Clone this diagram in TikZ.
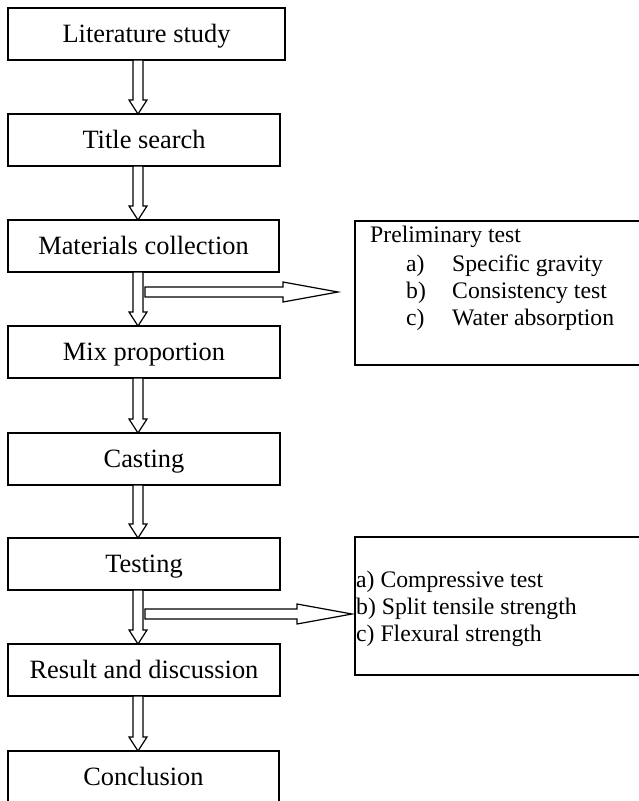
\documentclass[tikz,border=0pt]{standalone}
\usepackage{fontspec}
\setmainfont{Liberation Serif}
\usetikzlibrary{calc}
\tikzset{
  mainbox/.style={draw, line width=1.3pt, minimum width=#1, minimum height=52pt,
    inner sep=0pt, outer sep=0pt, text height=17.5pt, text depth=0pt,
    font=\fontsize{26.4}{30}\selectfont, anchor=north west},
  sidebox/.style={draw, line width=2.3pt, anchor=north west, inner sep=0pt, outer sep=0pt,
    minimum width=300pt},
  sidetxt/.style={font=\fontsize{23.7}{27}\selectfont, anchor=base west, inner sep=0pt},
  blk/.style={draw, line width=1.2pt, fill=white, line join=miter},
}
\newcommand{\vblk}[2]{%
  \draw[blk] let \p1=(#1.south), \p2=(#2.north) in
    (133pt,\y1) -- (133pt,\y2+14pt) -- (129pt,\y2+14pt) -- (138pt,\y2)
    -- (147pt,\y2+14pt) -- (143pt,\y2+14pt) -- (143pt,\y1) -- cycle;}
\newcommand{\hblk}[2]{%
  \draw[blk] let \p1=(#1), \p2=(#2) in
    (\x1,\y1+5pt) -- (\x2-55pt,\y1+5pt) -- (\x2-55pt,\y1+10pt) -- (\x2,\y2)
    -- (\x2-55pt,\y1-10pt) -- (\x2-55pt,\y1-5pt) -- (\x1,\y1-5pt) -- cycle;}
\begin{document}
\begin{tikzpicture}[x=1pt,y=-1pt]
\useasboundingbox (0,0) rectangle (639,801);
\clip (0,0) rectangle (639,801);
\fill[white] (0,0) rectangle (639,801);

\node[mainbox=277pt] (lit) at (8,8) {Literature study};
\node[mainbox=272pt] (title) at (8,114) {Title search};
\node[mainbox=271pt] (mat) at (8,220) {Materials collection};
\node[mainbox=272pt] (mix) at (8,326) {Mix proportion};
\node[mainbox=272pt] (cast) at (8,433) {Casting};
\node[mainbox=272pt] (test) at (8,538) {Testing};
\node[mainbox=272pt] (res) at (8,644) {Result and discussion};
\node[mainbox=271pt] (conc) at (8,751) {Conclusion};

\node[sidebox, minimum height=144pt] (pbox) at (355,221) {};
\node[sidebox, minimum height=138pt] (lbox) at (355,537) {};

\node[sidetxt] (p0) at (370,242) {Preliminary test};
\node[sidetxt] (pa) at (406,271) {a)};
\node[sidetxt] (pat) at (452,271) {Specific gravity};
\node[sidetxt] (pb) at (406,298) {b)};
\node[sidetxt] (pbt) at (452,298) {Consistency test};
\node[sidetxt] (pc) at (406,325) {c)};
\node[sidetxt] (pct) at (452,325) {Water absorption};

\node[sidetxt] (la) at (356,587) {a) Compressive test};
\node[sidetxt] (lb) at (356,614) {b) Split tensile strength};
\node[sidetxt] (lc) at (356,641) {c) Flexural strength};

\vblk{lit}{title}
\vblk{title}{mat}
\vblk{mat}{mix}
\vblk{mix}{cast}
\vblk{cast}{test}
\vblk{test}{res}
\vblk{res}{conc}

\coordinate (h1a) at ($(mat.south west)+(137,20)$);
\coordinate (h1b) at ($(pbox.west |- h1a)+(-17,0)$);
\hblk{h1a}{h1b}
\coordinate (h2a) at ($(test.south west)+(137,24)$);
\coordinate (h2b) at ($(lbox.west |- h2a)+(-3,0)$);
\hblk{h2a}{h2b}
\end{tikzpicture}
\end{document}
